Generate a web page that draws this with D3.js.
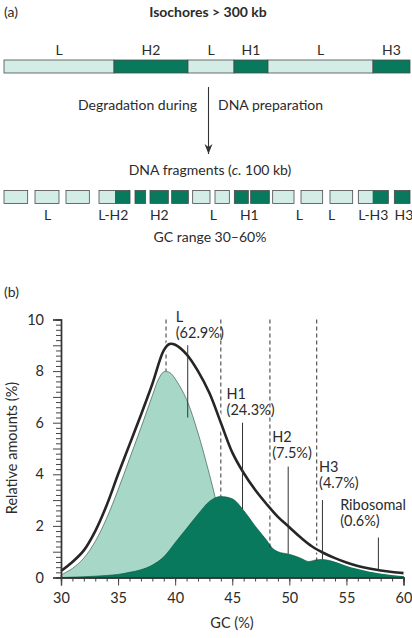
<!DOCTYPE html>
<html>
<head>
<meta charset="utf-8">
<script src="https://cdn.jsdelivr.net/npm/d3@7"></script>
<style>
	body { margin: 0; background: #fff; }
	text { font-family: Lato, "Open Sans", sans-serif; fill: #2b2b2b; }
</style>
</head>
<body>
<svg id="fig" width="412" height="638"></svg>
<script>

// ---- part (a) data : positions along the chromosome, kb ----
var isoTypes = ["L", "H2", "L", "H1", "L", "H3"];
var isoBounds = [0, 330, 552, 690, 792, 1107, 1218];

var fragStart = [0, 93, 186, 285, 393, 438, 503, 566, 633, 691, 740, 806, 891, 978, 1063, 1171];
var fragEnd   = [71, 165, 256, 378, 425, 493, 553, 618, 676, 733, 796, 870, 956, 1046, 1153, 1218];
var fragSplit = [null, null, null, 333, null, null, null, null, null, null, null, null, null, null, 1106, null];
var fragType  = ["L", "L", "L", "LH", "H", "H", "H", "L", "L", "H", "H", "L", "L", "L", "LH", "H"];
var fragLabels = ["L", "L-H2", "H2", "L", "H1", "L", "L", "L-H3", "H3"];
var fragLabelKb = [131, 328, 466, 628, 736, 886, 983, 1108, 1200];

// ---- part (b) data : relative amounts (%) against GC (%) ----
var totalGC  = [30, 31, 32, 33, 34, 35, 36, 37, 38, 39, 39.5, 40, 41, 42, 43, 44, 45, 46, 47, 48, 49, 50, 51, 52, 53, 54, 55, 56, 57, 58, 59, 60];
var totalAmt = [0.25, 0.6, 1.05, 1.8, 2.8, 4.0, 5.15, 6.3, 7.5, 8.8, 9.05, 9.02, 8.65, 8.0, 7.15, 6.0, 4.85, 4.05, 3.4, 2.85, 2.35, 1.95, 1.55, 1.2, 0.95, 0.75, 0.58, 0.45, 0.35, 0.27, 0.21, 0.17];

var lightGC  = [30, 31, 32, 33, 34, 35, 36, 37, 38, 38.5, 39, 39.5, 40, 41, 42, 43, 44, 45, 46, 47, 48];
var lightAmt = [0.1, 0.35, 0.75, 1.4, 2.3, 3.4, 4.6, 5.8, 7.05, 7.65, 7.97, 7.95, 7.7, 6.9, 5.6, 4.0, 2.3, 1.1, 0.4, 0.1, 0];

var heavyGC  = [30, 32, 34, 35, 36, 37, 38, 39, 40, 41, 42, 43, 44, 45, 46, 47, 48, 48.6, 49, 50, 51, 51.7, 52.3, 52.8, 53.5, 54, 55, 56, 57, 58, 59, 60];
var heavyAmt = [0, 0.03, 0.08, 0.12, 0.2, 0.3, 0.48, 0.8, 1.35, 1.9, 2.45, 2.95, 3.14, 3.05, 2.6, 2.0, 1.45, 1.1, 1.0, 0.9, 0.75, 0.62, 0.68, 0.7, 0.66, 0.6, 0.48, 0.38, 0.28, 0.2, 0.12, 0.05];

// peak markers (dashed) and labelled leaders
var peakGC  = [39.2, 44.0, 48.3, 52.4];
var peakAmt = [8.0, 3.14, 1.1, 0.65];
var annNames  = ["L", "H1", "H2", "H3", "Ribosomal"];
var annShares = ["(62.9%)", "(24.3%)", "(7.5%)", "(4.7%)", "(0.6%)"];
var annLabelGC  = [40.05, 44.5, 48.5, 52.6, 54.45];
var annLabelAmt = [9.9, 6.9, 5.25, 4.1, 2.6];
var leaderGC    = [41.1, 45.9, 49.9, 52.9, 57.8];
var leaderTop   = [9.0, 6.0, 4.3, 3.0, 1.55];
var leaderBot   = [6.2, 2.65, 0.92, 0.7, 0.27];

var dark = "#08795c", pale = "#d3ede6", mid = "#a6d7c7", edge = "#4a4a4a";

var svg = d3.select("#fig");

// =================== (a) ===================
var pos = d3.scaleLinear().domain([0, 1218]).range([4, 410]);

svg.append("text").attr("x", 4).attr("y", 17).style("font-size", "14px").text("(a)");
svg.append("text").attr("x", 208).attr("y", 17).attr("text-anchor", "middle")
	.style("font-size", "14px").style("font-weight", "bold").text("Isochores > 300 kb");

var iso = isoTypes.map(function(t, i) { return {type: t, a: isoBounds[i], b: isoBounds[i + 1]}; });

svg.append("g").selectAll("rect").data(iso).enter().append("rect")
	.attr("x", function(d) { return pos(d.a); })
	.attr("width", function(d) { return pos(d.b) - pos(d.a); })
	.attr("y", 60).attr("height", 13)
	.attr("fill", function(d) { return d.type == "L" ? pale : dark; })
	.attr("stroke", edge).attr("stroke-width", 0.8);

svg.append("g").selectAll("text").data(iso).enter().append("text")
	.attr("x", function(d) { return (pos(d.a) + pos(d.b)) / 2; })
	.attr("y", 55).attr("text-anchor", "middle").style("font-size", "14px")
	.text(function(d) { return d.type; });

// arrow
svg.append("defs").append("marker")
	.attr("id", "arr").attr("viewBox", "0 0 10 10").attr("refX", 10).attr("refY", 5)
	.attr("markerWidth", 10).attr("markerHeight", 10).attr("markerUnits", "userSpaceOnUse")
	.attr("orient", "auto")
	.append("path").attr("d", "M0,1 L10,5 L0,9 L3,5 Z").attr("fill", "#333");

svg.append("line").attr("x1", 208.5).attr("x2", 208.5).attr("y1", 87).attr("y2", 154)
	.attr("stroke", "#333").attr("stroke-width", 1.1).attr("marker-end", "url(#arr)");

svg.append("text").attr("x", 197).attr("y", 110).attr("text-anchor", "end")
	.style("font-size", "14px").text("Degradation during");
svg.append("text").attr("x", 218).attr("y", 110)
	.style("font-size", "14px").text("DNA preparation");

var t1 = svg.append("text").attr("x", 210).attr("y", 175).attr("text-anchor", "middle").style("font-size", "14px");
t1.append("tspan").text("DNA fragments (");
t1.append("tspan").style("font-style", "italic").text("c.");
t1.append("tspan").text(" 100 kb)");

var frags = fragStart.map(function(s, i) {
	return {a: s, b: fragEnd[i], split: fragSplit[i], type: fragType[i]};
});

var fg = svg.append("g").selectAll("g").data(frags).enter().append("g");
fg.append("rect")
	.attr("x", function(d) { return pos(d.a); })
	.attr("width", function(d) { return pos(d.b) - pos(d.a); })
	.attr("y", 190.5).attr("height", 13)
	.attr("fill", function(d) { return d.type == "H" ? dark : pale; });
fg.filter(function(d) { return d.split != null; }).append("rect")
	.attr("x", function(d) { return pos(d.split); })
	.attr("width", function(d) { return pos(d.b) - pos(d.split); })
	.attr("y", 190.5).attr("height", 13).attr("fill", dark);
fg.append("rect")
	.attr("x", function(d) { return pos(d.a); })
	.attr("width", function(d) { return pos(d.b) - pos(d.a); })
	.attr("y", 190.5).attr("height", 13)
	.attr("fill", "none").attr("stroke", edge).attr("stroke-width", 0.8);

svg.append("g").selectAll("text").data(fragLabels).enter().append("text")
	.attr("x", function(d, i) { return pos(fragLabelKb[i]); })
	.attr("y", 220).attr("text-anchor", "middle").style("font-size", "14px")
	.text(function(d) { return d; });

svg.append("text").attr("x", 210).attr("y", 242).attr("text-anchor", "middle")
	.style("font-size", "14px").text("GC range 30\u201360%");

// =================== (b) ===================
svg.append("text").attr("x", 4).attr("y", 297).style("font-size", "14px").text("(b)");

var x = d3.scaleLinear().domain([30, 60]).range([61, 403.5]);
var y = d3.scaleLinear().domain([0, 10]).range([577.5, 319.5]);

function pts(gc, amt) { return gc.map(function(g, i) { return [g, amt[i]]; }); }

var area = d3.area().curve(d3.curveMonotoneX)
	.x(function(d) { return x(d[0]); }).y0(y(0)).y1(function(d) { return y(d[1]); });
var smoothArea = d3.area().curve(d3.curveCatmullRom)
	.x(function(d) { return x(d[0]); }).y0(y(0)).y1(function(d) { return y(d[1]); });
var line = d3.line().curve(d3.curveCatmullRom)
	.x(function(d) { return x(d[0]); }).y(function(d) { return y(d[1]); });

var plot = svg.append("g");

plot.append("path").datum(pts(lightGC, lightAmt)).attr("d", smoothArea)
	.attr("fill", mid).attr("stroke", "#3d5e55").attr("stroke-width", 0.7);
plot.append("path").datum(pts(heavyGC, heavyAmt)).attr("d", area)
	.attr("fill", dark).attr("stroke", "#05513d").attr("stroke-width", 0.6);

// dashed peak markers
plot.selectAll(".peak").data(peakGC).enter().append("line")
	.attr("class", "peak")
	.attr("x1", function(d) { return x(d); }).attr("x2", function(d) { return x(d); })
	.attr("y1", y(10)).attr("y2", function(d, i) { return y(peakAmt[i]); })
	.attr("stroke", "#333").attr("stroke-width", 1).attr("stroke-dasharray", "4,3");

// total curve with white halo
plot.append("path").datum(pts(totalGC, totalAmt)).attr("d", line)
	.attr("fill", "none").attr("stroke", "#fff").attr("stroke-width", 6);
plot.append("path").datum(pts(totalGC, totalAmt)).attr("d", line)
	.attr("fill", "none").attr("stroke", "#262626").attr("stroke-width", 2.6);

// leaders and labels
plot.selectAll(".lead").data(leaderGC).enter().append("line")
	.attr("class", "lead")
	.attr("x1", function(d) { return x(d); }).attr("x2", function(d) { return x(d); })
	.attr("y1", function(d, i) { return y(leaderTop[i]); })
	.attr("y2", function(d, i) { return y(leaderBot[i]); })
	.attr("stroke", "#333").attr("stroke-width", 1);

var lab = plot.selectAll(".ann").data(annNames).enter().append("text")
	.attr("class", "ann").style("font-size", "14.5px")
	.attr("x", function(d, i) { return x(annLabelGC[i]); })
	.attr("y", function(d, i) { return y(annLabelAmt[i]); });
lab.append("tspan").text(function(d) { return d; });
lab.append("tspan").attr("x", function(d, i) { return x(annLabelGC[i]); }).attr("dy", 16)
	.text(function(d, i) { return annShares[i]; });

// axes
var yMinor = d3.range(0, 10.01, 0.2).filter(function(v) { return Math.abs(v - Math.round(v)) > 0.01; });
var yAxisMinor = d3.axisLeft(y).tickValues(yMinor).tickSize(5).tickFormat("");
var yAxisInt = d3.axisLeft(y).tickValues(d3.range(0, 11, 1)).tickSize(8)
	.tickPadding(9).tickFormat(function(d) { return d % 2 == 0 ? d : ""; });

var xAxisMinor = d3.axisBottom(x).tickValues(d3.range(30, 61, 1)).tickSize(4).tickFormat("");
var xAxisMaj = d3.axisBottom(x).tickValues(d3.range(30, 61, 5)).tickSize(8).tickPadding(7);

function styleAxis(g) {
	g.select(".domain").attr("stroke", "#333").attr("stroke-width", 1.4);
	g.selectAll(".tick line").attr("stroke", "#444");
	g.selectAll(".tick text").style("font-size", "14.5px").style("font-family", "Lato, 'Open Sans', sans-serif").attr("fill", "#2b2b2b");
}

svg.append("g").attr("transform", "translate(61,0)").call(yAxisMinor).call(styleAxis);
svg.append("g").attr("transform", "translate(61,0)").call(yAxisInt).call(styleAxis);
svg.append("g").attr("transform", "translate(0,577.5)").call(xAxisMinor).call(styleAxis);
svg.append("g").attr("transform", "translate(0,577.5)").call(xAxisMaj).call(styleAxis);

svg.append("text").attr("transform", "translate(17,448) rotate(-90)").attr("text-anchor", "middle")
	.style("font-size", "14.5px").text("Relative amounts (%)");
svg.append("text").attr("x", 232).attr("y", 628).attr("text-anchor", "middle")
	.style("font-size", "14.5px").text("GC (%)");

</script>
</body>
</html>
